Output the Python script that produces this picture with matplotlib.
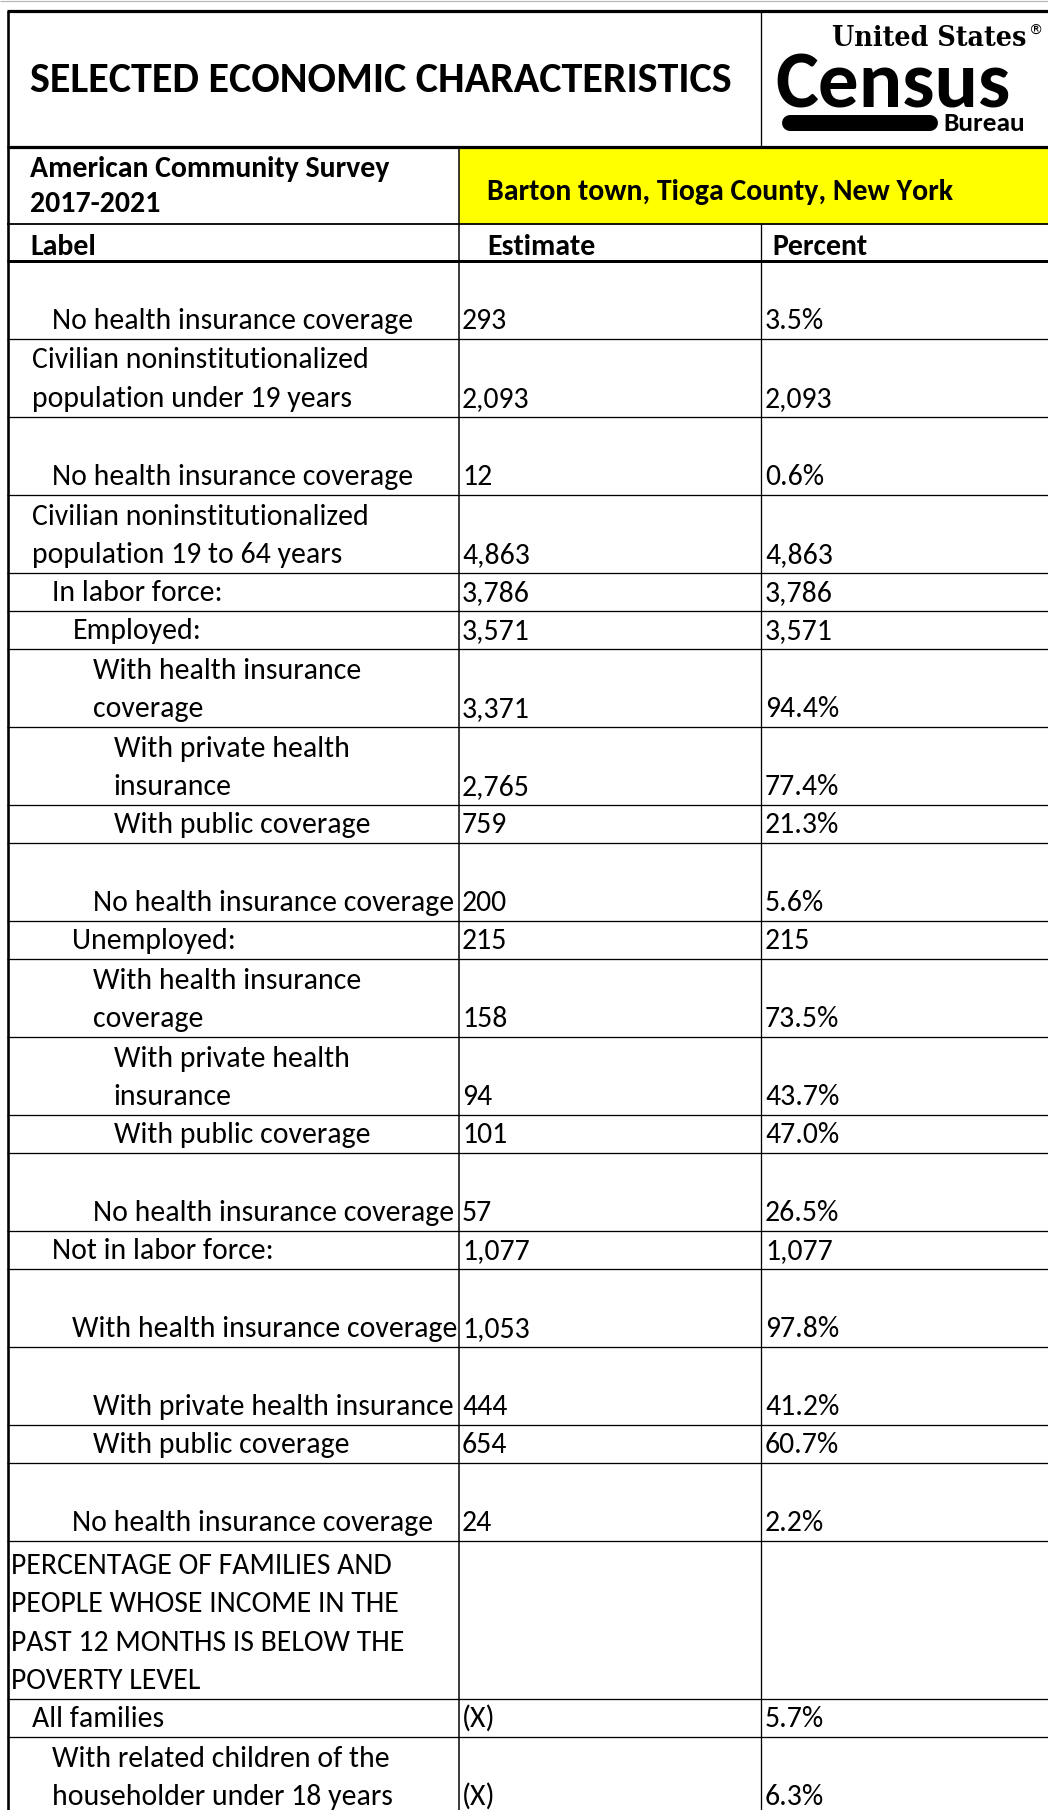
import matplotlib
matplotlib.use("Agg")
import matplotlib.pyplot as plt
from matplotlib import font_manager as fm
from matplotlib.patches import Rectangle

# ---------------- data ----------------
title = "SELECTED ECONOMIC CHARACTERISTICS"
survey_lines = ["American Community Survey", "2017-2021"]
geography = "Barton town, Tioga County, New York"
col_headers = ["Label", "Estimate", "Percent"]

labels = [
    "No health insurance coverage",
    "Civilian noninstitutionalized\npopulation under 19 years",
    "No health insurance coverage",
    "Civilian noninstitutionalized\npopulation 19 to 64 years",
    "In labor force:",
    "Employed:",
    "With health insurance\ncoverage",
    "With private health\ninsurance",
    "With public coverage",
    "No health insurance coverage",
    "Unemployed:",
    "With health insurance\ncoverage",
    "With private health\ninsurance",
    "With public coverage",
    "No health insurance coverage",
    "Not in labor force:",
    "With health insurance coverage",
    "With private health insurance",
    "With public coverage",
    "No health insurance coverage",
    "PERCENTAGE OF FAMILIES AND\nPEOPLE WHOSE INCOME IN THE\nPAST 12 MONTHS IS BELOW THE\nPOVERTY LEVEL",
    "All families",
    "With related children of the\nhouseholder under 18 years",
]
indent_levels = [2, 1, 2, 1, 2, 3, 4, 5, 5, 4, 3, 4, 5, 5, 4, 2, 3, 4, 4, 3, 0, 1, 2]
estimates = ["293", "2,093", "12", "4,863", "3,786", "3,571", "3,371", "2,765", "759",
             "200", "215", "158", "94", "101", "57", "1,077", "1,053", "444", "654",
             "24", "", "(X)", "(X)"]
percents = ["3.5%", "2,093", "0.6%", "4,863", "3,786", "3,571", "94.4%", "77.4%", "21.3%",
            "5.6%", "215", "73.5%", "43.7%", "47.0%", "26.5%", "1,077", "97.8%", "41.2%",
            "60.7%", "2.2%", "", "5.7%", "6.3%"]
row_units = [2, 2, 2, 2, 1, 1, 2, 2, 1, 2, 1, 2, 2, 1, 2, 1, 2, 2, 1, 2, 4, 1, 2]

# ---------------- fonts ----------------
avail = {f.name for f in fm.fontManager.ttflist}


def pick(cands):
    for c in cands:
        if c in avail:
            return c
    return "DejaVu Sans"


BODY = pick(["Carlito", "Calibri", "Lato", "Open Sans"])
LOGO_SANS = pick(["Carlito", "Calibri", "Liberation Sans Narrow", "Roboto Condensed", "Roboto"])
LOGO_SERIF = pick(["DejaVu Serif", "Liberation Serif"])

W, H = 1048, 1810
fig = plt.figure(figsize=(W / 100, H / 100), dpi=100)
ax = fig.add_axes([0, 0, 1, 1])
ax.set_xlim(0, W)
ax.set_ylim(H, 0)
ax.axis("off")
renderer = fig.canvas.get_renderer()


def px(v):
    return v * 72.0 / 100.0


def fit(s, target, **kw):
    t = ax.text(0, 0, s, fontsize=20, **kw)
    w = t.get_window_extent(renderer).width
    t.remove()
    return 20.0 * target / w


body_fs = fit("No health insurance coverage", 360, family=BODY)
head_fs = fit("American Community Survey", 360, family=BODY, weight="bold")
title_fs = fit(title, 705, family=BODY, weight="bold")

LEFT, C1, C2 = 7, 459, 761
BLACK = "black"

# ---------------- header ----------------
ax.hlines(1, 0, W, color="#b8b8b8", lw=px(1.2))
ax.add_patch(Rectangle((C1, 147), W - C1, 224 - 147, facecolor="#FFFF00", edgecolor="none", zorder=0))

ax.text(30, 92, title, fontsize=title_fs, family=BODY, weight="bold", va="baseline")
ax.text(30, 177, survey_lines[0], fontsize=head_fs, family=BODY, weight="bold", va="baseline")
ax.text(30, 212, survey_lines[1], fontsize=head_fs, family=BODY, weight="bold", va="baseline")
ax.text(487, 200, geography, fontsize=head_fs, family=BODY, weight="bold", va="baseline")
ax.text(30, 255, col_headers[0], fontsize=head_fs, family=BODY, weight="bold", va="baseline")
ax.text(487, 255, col_headers[1], fontsize=head_fs, family=BODY, weight="bold", va="baseline")
ax.text(772, 255, col_headers[2], fontsize=head_fs, family=BODY, weight="bold", va="baseline")

# logo
us_fs = fit("United States", 194, family=LOGO_SERIF, weight="bold", fontstretch="condensed")
ax.text(832, 46, "United States", fontsize=us_fs, family=LOGO_SERIF, weight="bold",
        fontstretch="condensed", va="baseline")
ax.text(1029, 35, "®", fontsize=us_fs * 0.5, family="DejaVu Sans", va="baseline")
cen_fs = fit("Census", 236, family=LOGO_SANS, weight="bold")
ax.text(775, 108, "Census", fontsize=cen_fs, family=LOGO_SANS, weight="bold", va="baseline")
ax.plot([790, 930], [123.5, 123.5], color=BLACK, lw=px(16), solid_capstyle="round")
bur_fs = fit("Bureau", 82, family=LOGO_SANS, weight="bold")
ax.text(943, 131, "Bureau", fontsize=bur_fs, family=LOGO_SANS, weight="bold", va="baseline")

# header lines
ax.hlines(11, LEFT, W, color=BLACK, lw=px(3.2))
ax.hlines(147, LEFT, W, color=BLACK, lw=px(3.2))
ax.hlines(224, LEFT, W, color=BLACK, lw=px(1.8))
ax.hlines(261, LEFT, W, color=BLACK, lw=px(3.0))
ax.vlines(C2, 11, 147, color=BLACK, lw=px(1.3))

# ---------------- body ----------------
ROW_H = {1: 38, 2: 78, 4: 158}
PITCH = 38.5
y = 261
for lab, lvl, est, pct, n in zip(labels, indent_levels, estimates, percents, row_units):
    bottom = y + ROW_H[n]
    xl = 11 + 20.5 * lvl
    for k, line in enumerate(reversed(lab.split("\n"))):
        ax.text(xl, bottom - 10 - k * PITCH, line, fontsize=body_fs, family=BODY, va="baseline")
    ax.text(462, bottom - 10, est, fontsize=body_fs, family=BODY, va="baseline")
    ax.text(765, bottom - 10, pct, fontsize=body_fs, family=BODY, va="baseline")
    ax.hlines(bottom, LEFT, W, color=BLACK, lw=px(1.3))
    y = bottom

ax.vlines(C1, 147, H, color=BLACK, lw=px(1.5))
ax.vlines(C2, 224, H, color=BLACK, lw=px(1.3))
ax.vlines(LEFT + 0.5, 11, H, color=BLACK, lw=px(2.6))

fig.savefig("out.png", dpi=100)
